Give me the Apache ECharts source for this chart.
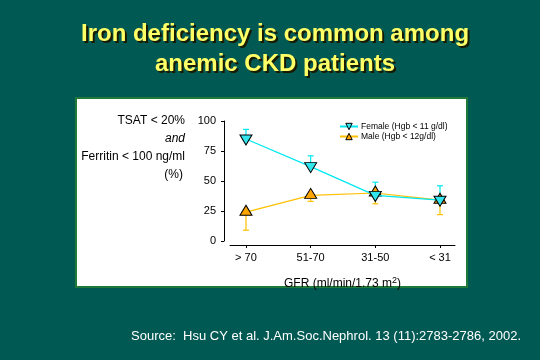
<!DOCTYPE html>
<html><head><meta charset="utf-8">
<script src="https://cdn.jsdelivr.net/npm/echarts@6/dist/echarts.min.js"></script>
<style>html,body{margin:0;padding:0;background:#005953;}#c{width:540px;height:360px;}</style>
</head><body><div id="c"></div>
<script>
const categories = ['> 70', '51-70', '31-50', '< 31'];
const femaleValues = [85, 62, 38, 34];
const femaleUpper = [93, 71, 49, 46];
const maleValues = [24, 38, 40, 34];
const maleLower = [9, 33, 31, 22];
const yTicks = [0, 25, 50, 75, 100];

const chart = echarts.init(document.getElementById('c'));
const FONT = 'Liberation Sans, Arial, sans-serif';
const TITLE = 'Iron deficiency is common among\nanemic CKD patients';

function errSeries(name, vals, ends, color) {
  return {
    type: 'custom', name: name + ' err', z: 1, silent: true,
    data: vals.map((v, i) => [i, v, ends[i]]),
    renderItem: function (params, api) {
      const p0 = api.coord([api.value(0), api.value(1)]);
      const p1 = api.coord([api.value(0), api.value(2)]);
      return {
        type: 'group', children: [
          { type: 'line', shape: { x1: p0[0], y1: p0[1], x2: p1[0], y2: p1[1] }, style: { stroke: color, lineWidth: 1.2 } },
          { type: 'line', shape: { x1: p1[0] - 3, y1: p1[1], x2: p1[0] + 3, y2: p1[1] }, style: { stroke: color, lineWidth: 1.2 } }
        ]
      };
    }
  };
}

const femaleSym = 'path://M0,0 L10,0 L5,9 Z';
const maleSym = 'path://M5,0 L10,9 L0,9 Z';

const option = {
  backgroundColor: '#005953',
  animation: false,
  graphic: [
    { type: 'rect', z: -10, shape: { x: 76, y: 98, width: 391, height: 189 }, style: { fill: '#ffffff', stroke: '#1f7a3a', lineWidth: 2 } },
    { type: 'text', x: 277, y: 21, style: { text: TITLE, fill: '#1a1a00', font: 'bold 24px ' + FONT, align: 'center', lineHeight: 30 } },
    { type: 'text', x: 275, y: 19, style: { text: TITLE, fill: '#ffff66', font: 'bold 24px ' + FONT, align: 'center', lineHeight: 30 } },
    { type: 'text', x: 185, y: 121, style: { text: 'TSAT < 20%', fill: '#000', font: '12px ' + FONT, align: 'right', verticalAlign: 'middle' } },
    { type: 'text', x: 185, y: 139, style: { text: 'and', fill: '#000', font: 'italic 12px ' + FONT, align: 'right', verticalAlign: 'middle' } },
    { type: 'text', x: 185, y: 157, style: { text: 'Ferritin < 100 ng/ml', fill: '#000', font: '12px ' + FONT, align: 'right', verticalAlign: 'middle' } },
    { type: 'text', x: 183, y: 175, style: { text: '(%)', fill: '#000', font: '12px ' + FONT, align: 'right', verticalAlign: 'middle' } },
    { type: 'text', x: 521, y: 336, style: { text: 'Source:  Hsu CY et al. J.Am.Soc.Nephrol. 13 (11):2783-2786, 2002.', fill: '#ffffff', font: '13px ' + FONT, align: 'right', verticalAlign: 'middle' } }
  ],
  legend: {
    orient: 'vertical', left: 334, top: 117, itemWidth: 18, itemHeight: 8, itemGap: 1,
    data: [
      { name: 'Female (Hgb < 11 g/dl)', itemStyle: { color: '#33e6ee', borderColor: '#000', borderWidth: 1 } },
      { name: 'Male (Hgb < 12g/dl)', itemStyle: { color: '#ffa500', borderColor: '#000', borderWidth: 1 } }
    ],
    textStyle: { fontSize: 8.5, fontFamily: FONT, color: '#000', padding: [0, 0, 0, -2] }
  },
  grid: { left: 230, right: 85, top: 121, bottom: 119 },
  xAxis: {
    type: 'value', min: -0.247, max: 3.232, offset: 4,
    splitLine: { show: false },
    axisLine: { show: true, onZero: false, lineStyle: { color: '#000', width: 1 } },
    axisTick: { show: true, length: 3, customValues: [0, 1, 2, 3], lineStyle: { color: '#000' } },
    axisLabel: { customValues: [0, 1, 2, 3], formatter: v => categories[Math.round(v)], color: '#000', fontSize: 11, fontFamily: FONT, margin: 7 },
    name: '{a|GFR (ml/min/1.73 m}{s|2}{a|)}', nameLocation: 'middle', nameGap: 31,
    nameTextStyle: { rich: { a: { fontSize: 12, fontFamily: FONT, color: '#000' }, s: { fontSize: 9, fontFamily: FONT, color: '#000', verticalAlign: 'top', padding: [0, 0, 6, 0] } } }
  },
  yAxis: {
    type: 'value', min: 0, max: 100, interval: 25, offset: 6,
    splitLine: { show: false },
    axisLine: { show: true, onZero: false, lineStyle: { color: '#000', width: 1 } },
    axisTick: { show: true, length: 3, lineStyle: { color: '#000' } },
    axisLabel: { color: '#000', fontSize: 11, fontFamily: FONT, margin: 8, customValues: yTicks }
  },
  series: [
    errSeries('Female', femaleValues, femaleUpper, '#00e8f0'),
    errSeries('Male', maleValues, maleLower, '#ffc000'),
    {
      name: 'Male (Hgb < 12g/dl)', type: 'line', z: 3,
      data: maleValues.map((v, i) => [i, v]),
      lineStyle: { color: '#ffc000', width: 1.2 },
      itemStyle: { color: '#ffa500', borderColor: '#000', borderWidth: 1 },
      symbol: maleSym, symbolSize: [12, 10], symbolOffset: [0, -2]
    },
    {
      name: 'Female (Hgb < 11 g/dl)', type: 'line', z: 4,
      data: femaleValues.map((v, i) => [i, v]),
      lineStyle: { color: '#00e8f0', width: 1.2 },
      itemStyle: { color: '#33e6ee', borderColor: '#000', borderWidth: 1 },
      symbol: femaleSym, symbolSize: [12, 10], symbolOffset: [0, 1]
    }
  ]
};
chart.setOption(option);
</script></body></html>
